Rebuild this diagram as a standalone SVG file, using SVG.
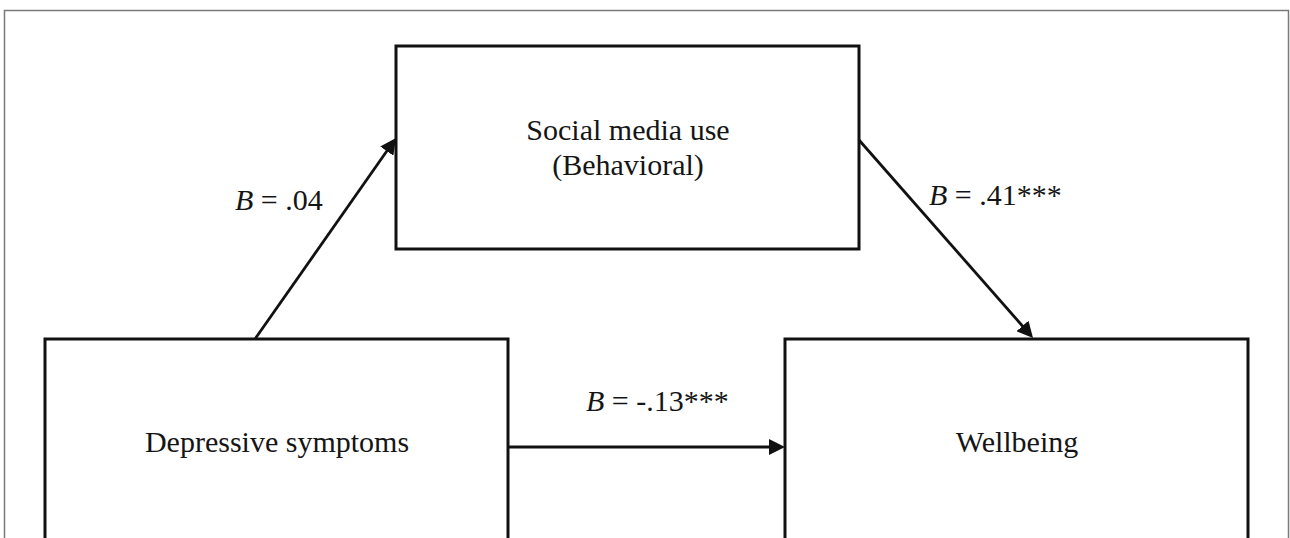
<svg xmlns="http://www.w3.org/2000/svg" width="1290" height="538" viewBox="0 0 1290 538">
  <defs>
    <style>
      .box { fill: #ffffff; stroke: #111111; stroke-width: 3; }
      .link { fill: none; stroke: #111111; stroke-width: 2.8; }
      .lbl { font-family: "Liberation Serif", "Times New Roman", serif; font-size: 30px; fill: #151515; }
      .mid { text-anchor: middle; }
    </style>
    <marker id="arrow" markerUnits="userSpaceOnUse" markerWidth="16" markerHeight="16" refX="12" refY="8" orient="auto">
      <path d="M0,0 L16,8 L0,16 z" fill="#111111"/>
    </marker>
  </defs>

  <rect width="1290" height="538" fill="#ffffff"/>
  <!-- outer frame -->
  <rect x="4.5" y="10.5" width="1284" height="560" fill="none" stroke="#7a7a7a" stroke-width="1.5"/>

  <!-- mediator -->
  <g id="social-media-use">
    <rect class="box" x="396" y="46" width="463" height="203"/>
    <text class="lbl mid" x="628" y="140">Social media use</text>
    <text class="lbl mid" x="628" y="175">(Behavioral)</text>
  </g>

  <!-- predictor -->
  <g id="depressive-symptoms">
    <rect class="box" x="45" y="339" width="463" height="240"/>
    <text class="lbl mid" x="277" y="452">Depressive symptoms</text>
  </g>

  <!-- outcome -->
  <g id="wellbeing">
    <rect class="box" x="785" y="339" width="463" height="240"/>
    <text class="lbl mid" x="1017" y="452">Wellbeing</text>
  </g>

  <!-- paths with coefficients -->
  <g id="connectors">
    <line class="link" x1="255" y1="339" x2="393.7" y2="141.3" marker-end="url(#arrow)"/>
    <line class="link" x1="859" y1="140" x2="1030.4" y2="335" marker-end="url(#arrow)"/>
    <line class="link" x1="508" y1="447" x2="781" y2="447" marker-end="url(#arrow)"/>
    <text class="lbl" x="235" y="210"><tspan font-style="italic">B</tspan> = .04</text>
    <text class="lbl" x="929" y="205"><tspan font-style="italic">B</tspan> = .41***</text>
    <text class="lbl" x="586" y="411"><tspan font-style="italic">B</tspan> = -.13***</text>
  </g>
</svg>
